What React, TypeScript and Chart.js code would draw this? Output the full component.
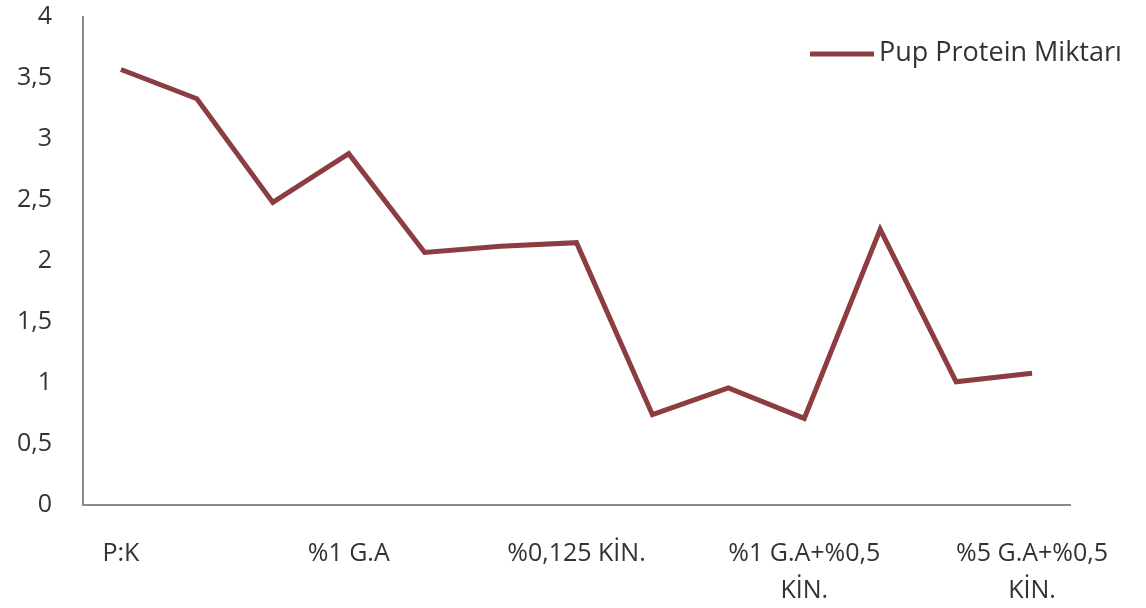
import React, { useEffect, useRef } from "react";
import { Chart, registerables } from "chart.js";

Chart.register(...registerables);

// Treatments along the x axis; only every third one carries a printed label.
const categories: (string | string[])[] = [
  "P:K",
  "",
  "",
  "%1 G.A",
  "",
  "",
  "%0,125 KİN.",
  "",
  "",
  ["%1 G.A+%0,5", "KİN."],
  "",
  "",
  ["%5 G.A+%0,5", "KİN."],
];

const seriesName = "Pup Protein Miktarı";
const proteinValues = [3.57, 3.33, 2.48, 2.88, 2.07, 2.12, 2.15, 0.74, 0.96, 0.71, 2.26, 1.01, 1.08];

const yMin = 0;
const yMax = 4;
const yStep = 0.5;

const LINE_COLOR = "#8B3D41";
const TEXT_COLOR = "#333333";
const AXIS_COLOR = "#8a8a8a";
const FONT = "'Open Sans', 'DejaVu Sans', sans-serif";

// Legend drawn over the top-right corner of the plot, like an overlay legend.
const overlayLegend = {
  id: "overlayLegend",
  afterDraw(chart: Chart) {
    const { ctx } = chart;
    const ds = chart.data.datasets[0];
    const y = 54;
    ctx.save();
    ctx.strokeStyle = (ds.borderColor as string) || LINE_COLOR;
    ctx.lineWidth = 5;
    ctx.lineCap = "butt";
    ctx.beginPath();
    ctx.moveTo(810, y);
    ctx.lineTo(874, y);
    ctx.stroke();
    ctx.fillStyle = TEXT_COLOR;
    ctx.font = `27px ${FONT}`;
    ctx.textBaseline = "middle";
    ctx.textAlign = "left";
    ctx.fillText(String(ds.label ?? ""), 879, y - 1);
    ctx.restore();
  },
};

export default function App() {
  const canvasRef = useRef<HTMLCanvasElement | null>(null);

  useEffect(() => {
    if (!canvasRef.current) return;
    const chart = new Chart(canvasRef.current, {
      type: "line",
      data: {
        labels: categories,
        datasets: [
          {
            label: seriesName,
            data: proteinValues,
            borderColor: LINE_COLOR,
            backgroundColor: LINE_COLOR,
            borderWidth: 5,
            pointRadius: 0,
            pointHoverRadius: 0,
            tension: 0,
            fill: false,
          },
        ],
      },
      options: {
        responsive: false,
        animation: false,
        layout: { padding: { left: 0, right: 76, top: 17, bottom: 0 } },
        plugins: {
          legend: { display: false },
          tooltip: { enabled: false },
        },
        scales: {
          x: {
            offset: true,
            grid: { display: false, drawTicks: false },
            border: { display: true, color: AXIS_COLOR, width: 2 },
            ticks: {
              autoSkip: false,
              maxRotation: 0,
              minRotation: 0,
              padding: 30,
              color: TEXT_COLOR,
              font: { family: FONT, size: 25, lineHeight: 1.5 },
            },
            afterFit(scale: any) {
              scale.height = 103;
              scale.paddingLeft = 0;
              scale.paddingRight = 0;
            },
          },
          y: {
            min: yMin,
            max: yMax,
            grid: { display: false, drawTicks: false },
            border: { display: true, color: AXIS_COLOR, width: 2 },
            ticks: {
              stepSize: yStep,
              padding: 31,
              color: TEXT_COLOR,
              font: { family: FONT, size: 25 },
              callback: (v: any) => String(v).replace(".", ","),
            },
            afterFit(scale: any) {
              scale.width = 83;
              scale.paddingTop = 0;
              scale.paddingBottom = 0;
            },
          },
        },
      },
      plugins: [overlayLegend],
    });
    return () => chart.destroy();
  }, []);

  return (
    <div style={{ position: "absolute", left: 0, top: 0, width: 1146, height: 608, background: "#fff" }}>
      <canvas ref={canvasRef} width={1146} height={608} />
    </div>
  );
}
